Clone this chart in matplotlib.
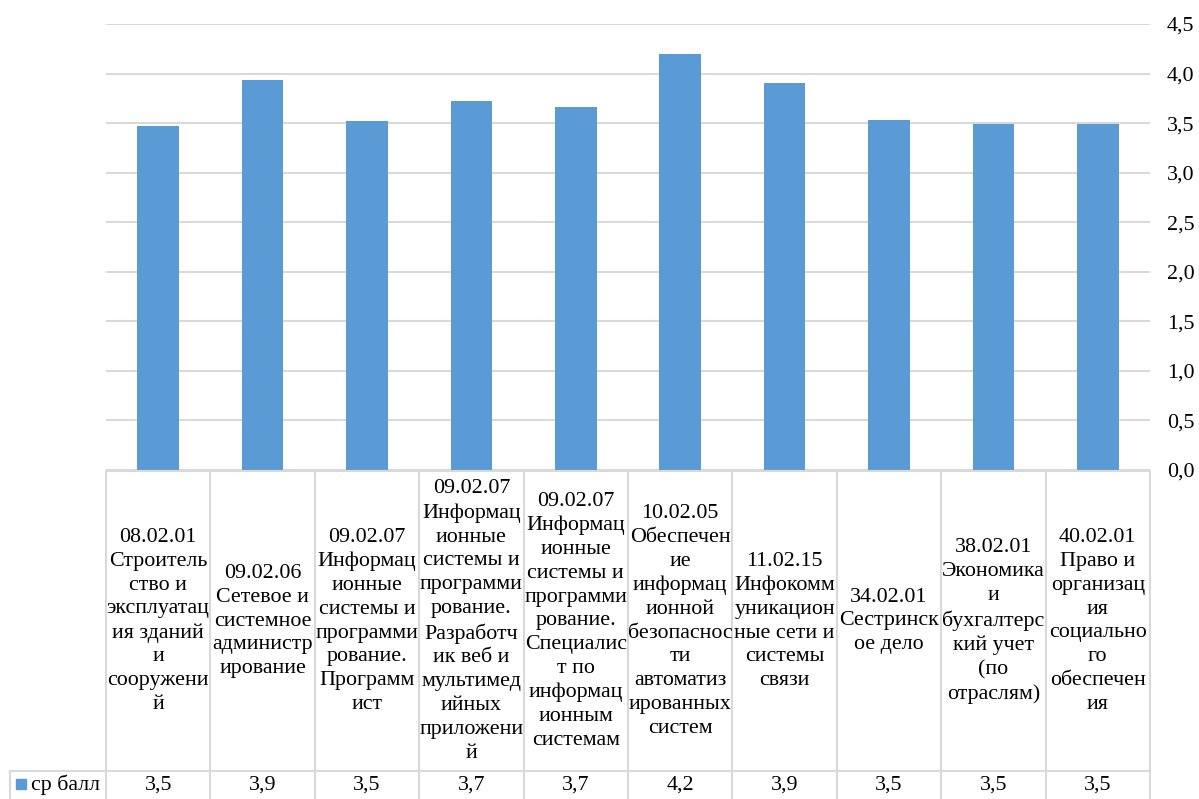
import numpy as np
import matplotlib
matplotlib.use("Agg")
import matplotlib.pyplot as plt
from matplotlib.ticker import FuncFormatter, MultipleLocator

plt.rcParams['font.family'] = ['Liberation Serif', 'DejaVu Serif']

# data
categories = [
    "08.02.01\nСтроитель\nство и\nэксплуатац\nия зданий\nи\nсооружени\nй",
    "09.02.06\nСетевое и\nсистемное\nадминистр\nирование",
    "09.02.07\nИнформац\nионные\nсистемы и\nпрограмми\nрование.\nПрограмм\nист",
    "09.02.07\nИнформац\nионные\nсистемы и\nпрограмми\nрование.\nРазработч\nик веб и\nмультимед\nийных\nприложени\nй",
    "09.02.07\nИнформац\nионные\nсистемы и\nпрограмми\nрование.\nСпециалис\nт по\nинформац\nионным\nсистемам",
    "10.02.05\nОбеспечен\nие\nинформац\nионной\nбезопаснос\nти\nавтоматиз\nированных\nсистем",
    "11.02.15\nИнфокомм\nуникацион\nные сети и\nсистемы\nсвязи",
    "34.02.01\nСестринск\nое дело",
    "38.02.01\nЭкономика\nи\nбухгалтерс\nкий учет\n(по\nотраслям)",
    "40.02.01\nПраво и\nорганизац\nия\nсоциально\nго\nобеспечен\nия",
]
scores = [3.47, 3.94, 3.52, 3.72, 3.66, 4.20, 3.90, 3.53, 3.49, 3.49]
series_name = "ср балл"

W, H = 1199, 799
blue = "#5b9bd5"
grid_c = "#d9d9d9"
fs = 15.8

fig = plt.figure(figsize=(W / 100, H / 100), dpi=100)

# plot area (pixel coords from the reference)
x0, x1 = 106, 1150
y_top, y_zero = 24, 470
ax = fig.add_axes([x0 / W, (H - y_zero) / H, (x1 - x0) / W, (y_zero - y_top) / H])
x = np.arange(len(scores))
ax.bar(x, scores, width=0.4, color=blue, zorder=3)
ax.set_xlim(-0.5, len(scores) - 0.5)
ax.set_ylim(0, 4.5)
ax.yaxis.set_major_locator(MultipleLocator(0.5))
ax.yaxis.set_major_formatter(FuncFormatter(lambda v, p: f"{v:.1f}".replace(".", ",")))
ax.yaxis.tick_right()
ax.tick_params(axis='y', length=0, pad=12, labelsize=fs)
ax.set_xticks([])
ax.grid(axis='y', color=grid_c, linewidth=1.5, zorder=0)
for s in ax.spines.values():
    s.set_visible(False)

# data table below the plot
tax = fig.add_axes([x0 / W, 0, (x1 - x0) / W, (H - y_zero) / H])
tax.set_xlim(-0.5, len(scores) - 0.5)
tax.set_ylim(0, H - y_zero)
tax.axis('off')
row_y = H - 771   # line between header and value rows
top_y = H - 471
lw = 1.5
tax.plot([-0.5, len(scores) - 0.5], [top_y, top_y], color=grid_c, lw=lw, clip_on=False)
leg_left = -0.5 - (x0 - 10) / ((x1 - x0) / len(scores))
tax.plot([leg_left, len(scores) - 0.5], [row_y, row_y], color=grid_c, lw=lw, clip_on=False)
tax.plot([leg_left, leg_left], [-5, row_y], color=grid_c, lw=lw, clip_on=False)
for i in range(len(scores) + 1):
    tax.plot([i - 0.5, i - 0.5], [-5, top_y], color=grid_c, lw=lw, clip_on=False)

mid_y = (row_y + top_y) / 2
for i, (lab, v) in enumerate(zip(categories, scores)):
    tax.text(i, mid_y, lab, ha='center', va='center', fontsize=fs,
             linespacing=1.34, clip_on=False)
    tax.text(i, row_y - 14, f"{v:.1f}".replace(".", ","), ha='center', va='center',
             fontsize=fs, clip_on=False)

# legend key in the value row
px = (x1 - x0) / len(scores)
tax.add_patch(plt.Rectangle((-0.5 - (x0 - 16) / px, row_y - 18), 10 / px, 10,
                            color=blue, clip_on=False))
tax.text(-0.5 - (x0 - 31) / px, row_y - 14, series_name, ha='left', va='center',
         fontsize=fs, clip_on=False)

fig.savefig("out.png", dpi=100)
